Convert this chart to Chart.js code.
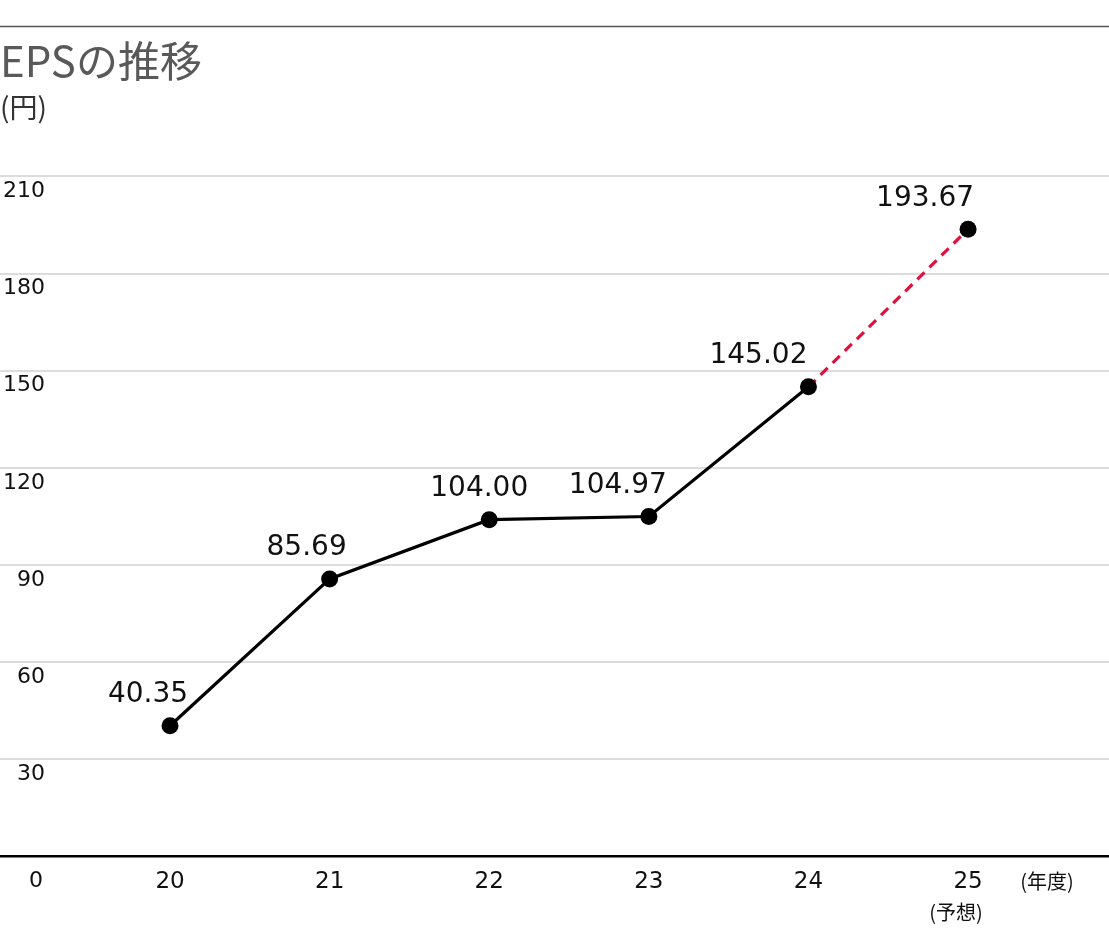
<!DOCTYPE html>
<html>
<head>
<meta charset="utf-8">
<script src="https://cdn.jsdelivr.net/npm/chart.js@4/dist/chart.umd.min.js"></script>
<style>
html,body{margin:0;padding:0;background:#fff;}
#wrap{width:1109px;height:929px;position:relative;}
</style>
</head>
<body>
<div id="wrap"><canvas id="c" width="1109" height="929"></canvas></div>
<script>
const years = [20, 21, 22, 23, 24, 25];
const xTickLabels = ['20', '21', '22', '23', '24', '25'];
const eps = [40.35, 85.69, 104.00, 104.97, 145.02, 193.67];
const epsLabels = ['40.35', '85.69', '104.00', '104.97', '145.02', '193.67'];
const yMin = 0, yMax = 210, yStep = 30;
const titleText = 'EPSの推移';
const unitText = '(円)';
const xUnitText = '(年度)';
const forecastNote = '(予想)';
const zeroLabel = '0';

const labelDx = [-22, -23, -10, -31, -50, -43];
const FONT = "'DejaVu Sans', sans-serif";
const JFONT = "'Noto Sans CJK JP', sans-serif";

const overlay = {
  id: 'overlay',
  beforeDraw(chart) {
    const ctx = chart.ctx;
    ctx.save();
    ctx.strokeStyle = '#555';
    ctx.lineWidth = 1.5;
    ctx.beginPath();
    ctx.moveTo(0, 26.5);
    ctx.lineTo(chart.width, 26.5);
    ctx.stroke();
    ctx.restore();
  },
  afterDatasetsDraw(chart) {
    const ctx = chart.ctx;
    const meta = chart.getDatasetMeta(0);
    ctx.save();
    ctx.font = '28px ' + FONT;
    ctx.fillStyle = '#111';
    ctx.textAlign = 'center';
    ctx.textBaseline = 'middle';
    meta.data.forEach((pt, i) => {
      ctx.fillText(epsLabels[i], pt.x + labelDx[i], pt.y - 31);
    });
    ctx.restore();
  },
  afterDraw(chart) {
    const ctx = chart.ctx;
    const xs = chart.scales.x, ys = chart.scales.y;
    const base = ys.getPixelForValue(0);
    ctx.save();
    ctx.fillStyle = '#111';
    ctx.textAlign = 'center';
    ctx.textBaseline = 'middle';
    ctx.font = '22px ' + FONT;
    ctx.fillText(zeroLabel, 36, base + 25);
    ctx.font = '20px ' + JFONT;
    const x25 = xs.getPixelForValue(years[years.length - 1]);
    ctx.fillText(forecastNote, x25 - 12, base + 56);
    ctx.fillText(xUnitText, x25 + 79, base + 25);
    ctx.restore();
  }
};

new Chart(document.getElementById('c'), {
  type: 'line',
  data: {
    datasets: [{
      data: years.map((y, i) => ({ x: y, y: eps[i] })),
      borderColor: '#000',
      borderWidth: 3.2,
      pointRadius: 8.5,
      pointBackgroundColor: '#000',
      pointBorderWidth: 0,
      tension: 0,
      segment: {
        borderColor: c => c.p1DataIndex === years.length - 1 ? '#e0103f' : '#000',
        borderDash: c => c.p1DataIndex === years.length - 1 ? [10, 7] : undefined
      }
    }]
  },
  options: {
    responsive: false,
    animation: false,
    events: [],
    layout: { autoPadding: false, padding: { top: 0, left: 0, right: 0, bottom: 21 } },
    plugins: {
      legend: { display: false },
      tooltip: { enabled: false },
      title: {
        display: true, text: titleText, align: 'start', color: '#595959',
        font: { family: JFONT, size: 42, weight: 'normal' },
        padding: { top: 36, bottom: 0 }
      },
      subtitle: {
        display: true, text: unitText, align: 'start', color: '#333',
        font: { family: JFONT, size: 28, weight: 'normal' },
        padding: { top: 4, bottom: 52.4 }
      }
    },
    scales: {
      x: {
        type: 'linear',
        min: 19.248,
        max: 25.883,
        grid: { display: false, drawTicks: false },
        border: { display: false },
        ticks: {
          stepSize: 1,
          includeBounds: false,
          autoSkip: false,
          maxRotation: 0,
          padding: 12,
          color: '#111',
          font: { family: FONT, size: 23 },
          callback: v => { const i = years.indexOf(v); return i >= 0 ? xTickLabels[i] : ''; }
        }
      },
      y: {
        min: yMin,
        max: yMax,
        afterFit: s => { s.width = 50; },
        border: { display: false },
        grid: {
          drawTicks: true,
          tickLength: 50,
          color: c => c.tick && c.tick.value === 0 ? '#000' : '#dcdcdc',
          lineWidth: c => c.tick && c.tick.value === 0 ? 2.5 : 2
        },
        ticks: {
          stepSize: yStep,
          padding: -45,
          crossAlign: 'near',
          labelOffset: 15,
          color: '#111',
          font: { family: FONT, size: 22 },
          callback: v => v === 0 ? '' : String(v)
        }
      }
    }
  },
  plugins: [overlay]
});
</script>
</body>
</html>
